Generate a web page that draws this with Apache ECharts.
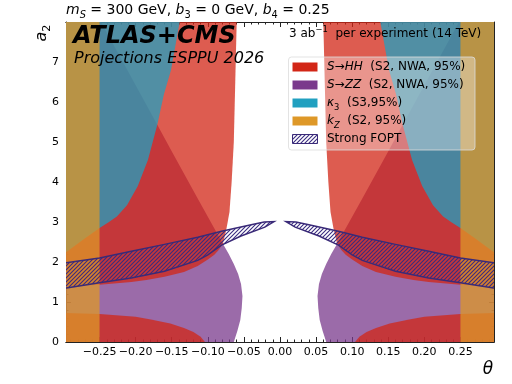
<!DOCTYPE html>
<html>
<head>
<meta charset="utf-8">
<title>a2 - theta</title>
<script src="https://cdn.jsdelivr.net/npm/echarts@6/dist/echarts.min.js"></script>
<style>html,body{margin:0;padding:0;background:#fff}#main{width:512px;height:384px}</style>
</head>
<body>
<div id="main"></div>
<script type="text/javascript">
// axis ranges and ticks
var X_MIN = -0.2965, X_MAX = 0.2965;
var xMajor = [-0.25, -0.20, -0.15, -0.10, -0.05, 0.00, 0.05, 0.10, 0.15, 0.20, 0.25];
var xMinor = [-0.29, -0.28, -0.27, -0.26, -0.24, -0.23, -0.22, -0.21, -0.19, -0.18, -0.17, -0.16,
  -0.14, -0.13, -0.12, -0.11, -0.09, -0.08, -0.07, -0.06, -0.04, -0.03, -0.02, -0.01,
  0.01, 0.02, 0.03, 0.04, 0.06, 0.07, 0.08, 0.09, 0.11, 0.12, 0.13, 0.14, 0.16, 0.17, 0.18, 0.19,
  0.21, 0.22, 0.23, 0.24, 0.26, 0.27, 0.28, 0.29];

// S -> ZZ excluded region  [theta, a2]
var zzLeft = [[-0.31, 8.2], [-0.252, 8.2], [-0.248, 8.0], [-0.210, 6.75], [-0.170, 5.43], [-0.151, 4.80],
  [-0.115, 3.62], [-0.078, 2.42], [-0.071, 2.20], [-0.064, 1.95], [-0.058, 1.70], [-0.054, 1.45],
  [-0.052, 1.15], [-0.053, 0.85], [-0.055, 0.55], [-0.059, 0.28], [-0.064, 0.0], [-0.065, -0.2], [-0.31, -0.2]];
var zzRight = [[0.31, 8.2], [0.252, 8.2], [0.248, 8.0], [0.210, 6.75], [0.170, 5.43], [0.151, 4.80],
  [0.115, 3.62], [0.078, 2.42], [0.071, 2.20], [0.064, 1.95], [0.058, 1.70], [0.054, 1.45],
  [0.052, 1.15], [0.053, 0.85], [0.055, 0.55], [0.059, 0.28], [0.064, 0.0], [0.065, -0.2], [0.31, -0.2]];

// S -> HH excluded region (upper and lower parts)
var hhUpLeft = [[-0.31, 8.2], [-0.060, 8.2], [-0.060, 8.0], [-0.062, 6.5], [-0.064, 5.0], [-0.067, 4.0],
  [-0.070, 3.25], [-0.074, 2.85], [-0.079, 2.46], [-0.085, 2.30], [-0.091, 2.18], [-0.100, 2.06],
  [-0.114, 1.90], [-0.133, 1.75], [-0.160, 1.63], [-0.185, 1.55], [-0.206, 1.50], [-0.250, 1.43], [-0.31, 1.37]];
var hhUpRight = [[0.31, 8.2], [0.060, 8.2], [0.060, 8.0], [0.062, 6.5], [0.064, 5.0], [0.067, 4.0],
  [0.070, 3.25], [0.074, 2.85], [0.079, 2.46], [0.085, 2.30], [0.091, 2.18], [0.100, 2.06],
  [0.114, 1.90], [0.133, 1.75], [0.160, 1.63], [0.185, 1.55], [0.206, 1.50], [0.250, 1.43], [0.31, 1.37]];
var hhLowLeft = [[-0.31, -0.2], [-0.31, 0.73], [-0.250, 0.70], [-0.200, 0.63], [-0.179, 0.56], [-0.152, 0.46],
  [-0.133, 0.35], [-0.120, 0.25], [-0.110, 0.13], [-0.104, 0.0], [-0.102, -0.2]];
var hhLowRight = [[0.31, -0.2], [0.31, 0.73], [0.250, 0.70], [0.200, 0.63], [0.179, 0.56], [0.152, 0.46],
  [0.133, 0.35], [0.120, 0.25], [0.110, 0.13], [0.104, 0.0], [0.102, -0.2]];

// kappa_3 excluded region
var k3Left = [[-0.31, 8.2], [-0.138, 8.2], [-0.139, 8.0], [-0.151, 6.80], [-0.161, 6.18], [-0.170, 5.43],
  [-0.183, 4.55], [-0.197, 3.90], [-0.212, 3.42], [-0.226, 3.14], [-0.238, 2.99], [-0.250, 2.85],
  [-0.272, 2.57], [-0.296, 2.25], [-0.31, 2.06]];
var k3Right = [[0.31, 8.2], [0.138, 8.2], [0.139, 8.0], [0.151, 6.80], [0.161, 6.18], [0.170, 5.43],
  [0.183, 4.55], [0.197, 3.90], [0.212, 3.42], [0.226, 3.14], [0.238, 2.99], [0.250, 2.85],
  [0.272, 2.57], [0.296, 2.25], [0.31, 2.06]];

// k_Z excluded region
var kzLeft = [[-0.31, -0.2], [-0.25, -0.2], [-0.25, 8.2], [-0.31, 8.2]];
var kzRight = [[0.31, -0.2], [0.25, -0.2], [0.25, 8.2], [0.31, 8.2]];

// strong first order phase transition band
var foptLeft = [[-0.31, 1.93], [-0.296, 1.98], [-0.250, 2.10], [-0.206, 2.27], [-0.160, 2.44], [-0.114, 2.62],
  [-0.081, 2.77], [-0.040, 2.93], [-0.022, 3.00], [-0.008, 3.01],
  [-0.021, 2.87], [-0.054, 2.65], [-0.081, 2.42], [-0.100, 2.18], [-0.114, 2.04], [-0.160, 1.77], [-0.206, 1.60],
  [-0.250, 1.48], [-0.296, 1.35], [-0.31, 1.31]];
var foptRight = [[0.31, 1.93], [0.296, 1.98], [0.250, 2.10], [0.206, 2.27], [0.160, 2.44], [0.114, 2.62],
  [0.081, 2.77], [0.040, 2.93], [0.022, 3.00], [0.008, 3.01],
  [0.021, 2.87], [0.054, 2.65], [0.081, 2.42], [0.100, 2.18], [0.114, 2.04], [0.160, 1.77], [0.206, 1.60],
  [0.250, 1.48], [0.296, 1.35], [0.31, 1.31]];

var FONT = 'DejaVu Sans';
var cRed = 'rgb(210,38,22)', cPurple = 'rgb(122,58,140)', cTeal = 'rgb(33,160,192)', cOrange = 'rgb(222,152,40)';
var cNavy = '#3a2a78';

// hatch pattern
var hc = document.createElement('canvas');
hc.width = 4; hc.height = 4;
var hg = hc.getContext('2d');
hg.strokeStyle = '#3a2c80';
hg.lineWidth = 1.1;
hg.beginPath();
hg.moveTo(0, 4); hg.lineTo(4, 0);
hg.moveTo(-1, 1); hg.lineTo(1, -1);
hg.moveTo(3, 5); hg.lineTo(5, 3);
hg.stroke();
var hatch = { image: hc, repeat: 'repeat' };

function region(name, polys, style) {
  return {
    type: 'custom', name: name, clip: true, silent: true,
    xAxisIndex: 0, yAxisIndex: 0,
    data: polys.map(function (p) { return p[0]; }),
    renderItem: function (params, api) {
      var pts = polys[params.dataIndex].map(function (q) { return api.coord(q); });
      return { type: 'polygon', shape: { points: pts }, style: style };
    }
  };
}

function fmtX(v) {
  var s = Math.abs(v).toFixed(2);
  return v < -1e-9 ? '\u2212' + s : s;
}

function xAx(pos, ticks, len, labels) {
  return {
    type: 'value', position: pos, min: X_MIN, max: X_MAX,
    axisLine: { show: true, onZero: false, lineStyle: { color: '#222', width: 1 } },
    axisTick: { show: true, inside: true, length: len, customValues: ticks, lineStyle: { color: '#222', width: 1 } },
    axisLabel: labels ? { show: true, customValues: ticks, formatter: fmtX, margin: 5, color: '#000', fontSize: 11, fontFamily: FONT }
                      : { show: false },
    splitLine: { show: false }
  };
}
function yAx(pos, labels) {
  return {
    type: 'value', position: pos, min: 0, max: 8, interval: 1,
    axisLine: { show: true, onZero: false, lineStyle: { color: '#222', width: 1 } },
    axisTick: { show: true, inside: true, length: 5, lineStyle: { color: '#222', width: 1 } },
    minorTick: { show: true, splitNumber: 5, length: 2.5, lineStyle: { color: '#222', width: 1 } },
    axisLabel: labels ? { show: true, margin: 7, color: '#000', fontSize: 11, fontFamily: FONT,
                          formatter: function (v) { return v === 8 ? '' : String(v); } }
                      : { show: false },
    splitLine: { show: false }, minorSplitLine: { show: false }
  };
}

var txt = function (x, y, text, rich, extra) {
  var st = { text: text, rich: rich, fill: '#000', align: 'left', verticalAlign: 'middle', fontFamily: FONT };
  for (var k in extra) st[k] = extra[k];
  return { type: 'text', x: x, y: y, z: 100, style: st };
};

var subRich = function (fs, lh) {
  return {
    n: { fontSize: fs, lineHeight: lh, fontFamily: FONT },
    i: { fontSize: fs, lineHeight: lh, fontFamily: FONT, fontStyle: 'italic' },
    sub: { fontSize: fs * 0.7, lineHeight: fs * 0.7, fontFamily: FONT, verticalAlign: 'bottom' },
    isub: { fontSize: fs * 0.7, lineHeight: fs * 0.7, fontFamily: FONT, fontStyle: 'italic', verticalAlign: 'bottom' },
    sup: { fontSize: fs * 0.7, lineHeight: fs * 0.7, fontFamily: FONT, verticalAlign: 'top' }
  };
};

var legRows = [
  { y: 67, fill: cRed, text: '{i|S}{n|\u2192}{i|HH}{n|  (S2, NWA, 95%)}' },
  { y: 85, fill: cPurple, text: '{i|S}{n|\u2192}{i|ZZ}{n|  (S2, NWA, 95%)}' },
  { y: 103, fill: cTeal, text: '{i|\u03ba}{sub|3}{n|  (S3,95%)}' },
  { y: 121, fill: cOrange, text: '{i|k}{isub|Z}{n|  (S2, 95%)}' },
  { y: 139, fill: null, text: '{n|Strong FOPT}' }
];

var graphics = [
  { type: 'rect', z: 90, shape: { x: 288.5, y: 57, width: 186.5, height: 93, r: 3 },
    style: { fill: 'rgba(255,255,255,0.35)', stroke: 'rgba(220,220,220,0.8)', lineWidth: 1 } }
];
legRows.forEach(function (r) {
  if (r.fill) {
    graphics.push({ type: 'rect', z: 95, shape: { x: 292.5, y: r.y - 4.5, width: 25, height: 9 },
      style: { fill: r.fill } });
  } else {
    graphics.push({ type: 'rect', z: 95, shape: { x: 292.5, y: r.y - 4.5, width: 25, height: 9 },
      style: { fill: '#fff' } });
    graphics.push({ type: 'rect', z: 96, shape: { x: 292.5, y: r.y - 4.5, width: 25, height: 9 },
      style: { fill: hatch, stroke: cNavy, lineWidth: 1 } });
  }
  graphics.push(txt(327, r.y, r.text, subRich(12, 17)));
});

graphics.push(txt(66, 10, '{i|m}{isub|S}{n| = 300 GeV, }{i|b}{sub|3}{n| = 0 GeV, }{i|b}{sub|4}{n| = 0.25}', subRich(14, 20)));
graphics.push(txt(73, 37, 'ATLAS+CMS', null, { fontSize: 24, fontWeight: 'bold', fontStyle: 'italic' }));
graphics.push(txt(74, 59, 'Projections ESPPU 2026', null, { fontSize: 16, fontStyle: 'italic' }));
graphics.push(txt(289, 34, '{n|3 ab}{sup|\u22121}{n|  per experiment (14 TeV)}', subRich(12, 17)));
graphics.push({ type: 'text', x: 42, y: 33, rotation: Math.PI / 2, z: 100,
  style: { text: '{i|a}{sub|2}', rich: subRich(16, 22), fill: '#000', align: 'center', verticalAlign: 'middle' } });
graphics.push(txt(488, 370, '\u03b8', null, { fontSize: 17, fontStyle: 'italic', align: 'center' }));

var chart = echarts.init(document.getElementById('main'), null, { renderer: 'canvas' });
chart.setOption({
  animation: false,
  backgroundColor: '#fff',
  grid: { left: 66, right: 18, top: 22, bottom: 42 },
  xAxis: [
    xAx('bottom', xMajor, 5, true),
    xAx('bottom', xMinor, 2.5, false),
    xAx('top', xMajor, 5, false),
    xAx('top', xMinor, 2.5, false)
  ],
  yAxis: [yAx('left', true), yAx('right', false)],
  series: [
    region('S->ZZ', [zzLeft, zzRight], { fill: cPurple, opacity: 0.75 }),
    region('S->HH', [hhUpLeft, hhUpRight, hhLowLeft, hhLowRight], { fill: cRed, opacity: 0.75 }),
    region('kappa3', [k3Left, k3Right], { fill: cTeal, opacity: 0.75 }),
    region('kZ', [kzLeft, kzRight], { fill: cOrange, opacity: 0.75 }),
    region('Strong FOPT', [foptLeft, foptRight], { fill: hatch, stroke: cNavy, lineWidth: 1.4 })
  ],
  graphic: graphics
});
</script>
</body>
</html>
